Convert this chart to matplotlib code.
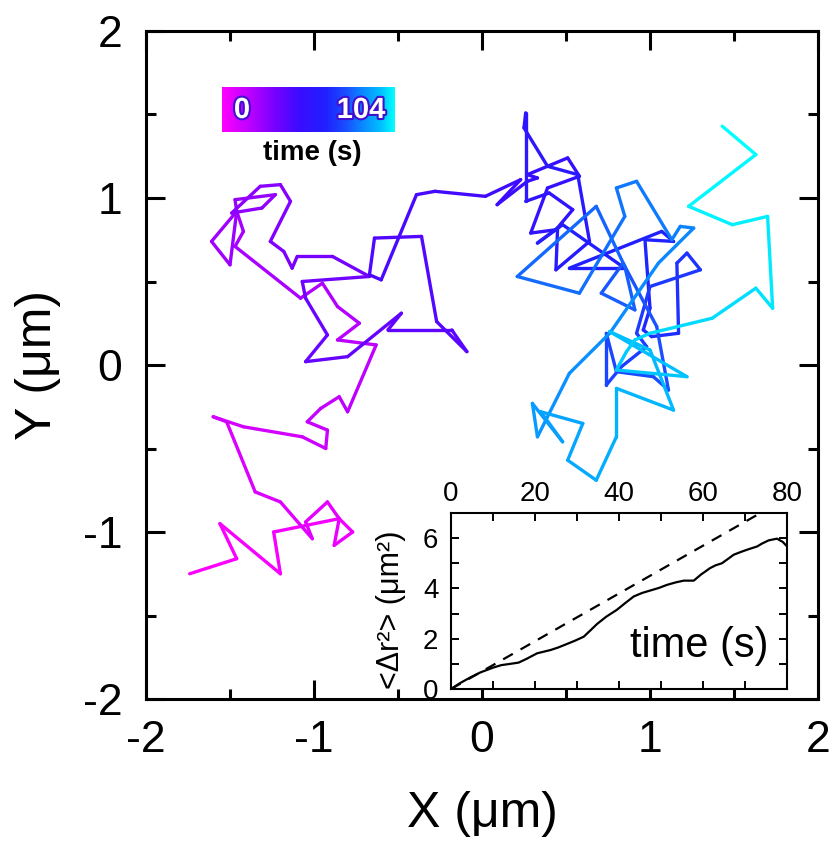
import numpy as np
import matplotlib
matplotlib.use("Agg")
import matplotlib.pyplot as plt
from matplotlib.collections import LineCollection
from matplotlib.colors import LinearSegmentedColormap, Normalize
from matplotlib.ticker import MultipleLocator
import matplotlib.patheffects as pe

plt.rcParams['font.family'] = ['Liberation Sans', 'DejaVu Sans']
plt.rcParams['axes.unicode_minus'] = False

# ---- particle trajectory (µm), in recording order ----
traj_x = [-1.74, -1.46, -1.56, -1.20, -1.24, -0.85, -0.77, -0.88, -0.85, -0.92,
          -1.05, -1.01, -1.20, -1.35, -1.52, -1.60, -1.42, -1.07, -0.93, -0.92,
          -1.04, -0.96, -0.85, -0.80, -0.63, -0.86, -0.73, -0.86, -0.95, -1.08,
          -1.47, -1.42, -1.46, -1.61, -1.50, -1.46, -1.47, -1.23, -1.31, -1.49,
          -1.32, -1.20, -1.14, -1.26, -1.18, -1.13, -1.10, -0.89, -0.67, -1.07,
          -1.05, -0.92, -1.05, -0.80, -0.48, -0.56, -0.18, -0.09, -0.27, -0.36,
          -0.64, -0.67, -0.60, -0.39, -0.28, 0.02,
          0.23, 0.09, 0.27, 0.33, 0.27, 0.51, 0.58, 0.39, 0.29, 0.44,
          0.54, 0.40, 0.26, 0.26, 0.25, 0.39, 0.57, 0.64, 0.44, 0.45,
          0.33, 0.48, 0.85, 0.52, 1.07, 1.14, 0.97, 1.00, 0.96, 1.01,
          1.17, 1.16, 1.22, 1.30, 1.00, 0.92, 0.98, 0.83, 0.74, 0.74,
          0.80, 1.02, 1.11, 1.04, 0.84, 0.71, 0.91, 0.85, 0.68, 0.21,
          0.58, 0.85, 0.80, 0.92, 1.13, 1.18, 1.26, 1.05, 0.76, 0.52,
          0.40, 0.33, 0.30, 0.48, 0.35, 0.60, 0.51, 0.68, 0.80, 0.80,
          1.14, 1.00, 0.76, 1.22, 0.80, 0.86, 0.91, 1.00, 1.37, 1.63,
          1.73, 1.70, 1.49, 1.23, 1.63, 1.43]
traj_y = [-1.25, -1.16, -0.95, -1.25, -1.00, -0.92, -1.00, -1.08, -0.92, -0.82,
          -0.94, -1.04, -0.82, -0.76, -0.34, -0.31, -0.37, -0.43, -0.50, -0.39,
          -0.34, -0.26, -0.19, -0.28, 0.12, 0.15, 0.25, 0.35, 0.49, 0.40,
          0.71, 0.80, 0.92, 0.74, 0.60, 0.92, 0.99, 1.02, 0.94, 0.91,
          1.07, 1.08, 0.98, 0.74, 0.68, 0.58, 0.65, 0.65, 0.53, 0.50,
          0.40, 0.18, 0.02, 0.05, 0.31, 0.21, 0.21, 0.08, 0.26, 0.77,
          0.76, 0.54, 0.51, 1.02, 1.04, 1.01,
          1.11, 0.96, 1.10, 1.12, 1.14, 1.24, 1.13, 1.06, 0.79, 0.81,
          0.93, 1.03, 0.98, 1.51, 1.42, 1.19, 1.14, 0.74, 0.57, 0.82,
          0.73, 0.84, 0.58, 0.58, 0.80, 0.74, 0.75, 0.34, 0.21, 0.17,
          0.19, 0.61, 0.67, 0.57, 0.47, 0.19, 0.11, -0.01, -0.12, 0.19,
          -0.04, -0.07, -0.15, 0.23, 0.61, 0.43, 0.33, 0.59, 0.95, 0.53,
          0.43, 0.89, 1.06, 1.10, 0.75, 0.83, 0.82, 0.61, 0.19, -0.05,
          -0.29, -0.43, -0.23, -0.46, -0.28, -0.35, -0.57, -0.69, -0.43, -0.14,
          -0.27, 0.09, 0.20, -0.07, -0.03, 0.08, 0.15, 0.19, 0.28, 0.46,
          0.34, 0.89, 0.84, 0.95, 1.26, 1.43]
duration = 104  # s

# ---- mean squared displacement vs lag time ----
lag_t = [0, 2, 4.6, 7, 10.2, 12, 14.1, 16.1, 18, 20.5, 23.7, 25.5, 27.6, 29.5,
         31.6, 33, 34.8, 37, 39.5, 41.5, 43.5, 45.5, 47.5, 49.5, 51.4, 53.5,
         55.4, 57.8, 59.5, 61.7, 63, 64.5, 66, 67.3, 69, 70.5, 72.9, 74, 75.6,
         77.6, 79, 80]
msd = [0, 0.22, 0.46, 0.66, 0.86, 0.95, 1.0, 1.05, 1.2, 1.42, 1.55, 1.65, 1.79,
       1.92, 2.08, 2.3, 2.59, 2.88, 3.15, 3.42, 3.68, 3.82, 3.92, 4.02, 4.14,
       4.24, 4.31, 4.31, 4.55, 4.81, 4.92, 5.0, 5.18, 5.34, 5.45, 5.54, 5.67,
       5.78, 5.91, 5.98, 5.85, 5.67]
# linear (free diffusion) reference
ref_t = [0, 80]
ref_msd = [0, 7.6]

# time colour scale
cmap_nodes = [0.0, 0.15, 0.3, 0.45, 0.6, 0.72, 0.82, 0.92, 1.0]
cmap_colors = ['#ff00ff', '#c000ff', '#7a00ff', '#3a0cff', '#2020ff',
               '#1a50ff', '#0a8cff', '#00c0ff', '#00ffff']
time_cmap = LinearSegmentedColormap.from_list('time', list(zip(cmap_nodes, cmap_colors)))

W, H = 833, 847
fig = plt.figure(figsize=(W / 100, H / 100), dpi=100)


def fx(px):
    return px / W


def fy(py):
    return 1 - py / H


# ---------------- main trajectory panel ----------------
ax = fig.add_axes([fx(146), fy(699), 672 / W, 668 / H])
pts = np.column_stack([traj_x, traj_y])
segs = np.stack([pts[:-1], pts[1:]], axis=1)
frame_t = np.linspace(0, duration, len(traj_x))
seg_t = 0.5 * (frame_t[:-1] + frame_t[1:])
lc = LineCollection(segs, cmap=time_cmap, norm=Normalize(0, duration),
                    linewidths=2.4, capstyle='round', joinstyle='round')
lc.set_array(seg_t)
ax.add_collection(lc)

ax.set_xlim(-2, 2)
ax.set_ylim(-2, 2)
ax.xaxis.set_major_locator(MultipleLocator(1))
ax.yaxis.set_major_locator(MultipleLocator(1))
ax.xaxis.set_minor_locator(MultipleLocator(0.5))
ax.yaxis.set_minor_locator(MultipleLocator(0.5))
for s in ax.spines.values():
    s.set_linewidth(2.2)
ax.tick_params(which='both', direction='in', top=True, right=True, width=2.2)
ax.tick_params(which='major', length=14, labelsize=32)
ax.tick_params(which='minor', length=7)
ax.tick_params(axis='x', which='major', pad=15)
ax.tick_params(axis='y', which='major', pad=17)
ax.set_xlabel('X (μm)', fontsize=36)
ax.set_ylabel('Y (μm)', fontsize=36)
ax.xaxis.set_label_coords(0.5, -0.138)
ax.yaxis.set_label_coords(-0.126, 0.5)

# ---------------- time colour bar ----------------
cax = fig.add_axes([fx(222), fy(132), (395 - 222) / W, 45 / H])
cax.imshow(np.linspace(0, duration, 256)[None, :], cmap=time_cmap, aspect='auto',
           extent=[0, duration, 0, 1])
cax.set_axis_off()
glow = [pe.withStroke(linewidth=3, foreground='#4010d0')]
fig.text(fx(242), fy(110), '0', color='white', fontsize=21, fontweight='bold',
         ha='center', va='center', path_effects=glow)
fig.text(fx(361), fy(110), str(duration), color='white', fontsize=21, fontweight='bold',
         ha='center', va='center', path_effects=glow)
fig.text(fx(312), fy(153), 'time (s)', color='black', fontsize=20, fontweight='bold',
         ha='center', va='center')

# ---------------- MSD inset ----------------
ax2 = fig.add_axes([fx(451), fy(689), 336 / W, 176 / H])
ax2.set_facecolor('white')
ax2.plot(lag_t, msd, color='black', lw=1.6)
ax2.plot(ref_t, ref_msd, color='black', lw=1.6, ls=(0, (5, 4)))
ax2.set_xlim(0, 80)
ax2.set_ylim(0, 7)
ax2.xaxis.set_major_locator(MultipleLocator(20))
ax2.xaxis.set_minor_locator(MultipleLocator(10))
ax2.yaxis.set_major_locator(MultipleLocator(2))
ax2.yaxis.set_minor_locator(MultipleLocator(1))
for s in ax2.spines.values():
    s.set_linewidth(1.5)
ax2.tick_params(which='both', direction='in', top=True, bottom=True, left=True,
                right=True, labeltop=True, labelbottom=False, width=1.4, length=6)
ax2.tick_params(which='major', labelsize=20)
ax2.tick_params(axis='x', which='major', pad=4)
ax2.tick_params(axis='y', which='major', pad=9)
ax2.set_ylabel('<Δr²> (μm²)', fontsize=22)
ax2.yaxis.set_label_coords(-0.135, 0.45)
ax2.text(0.945, 0.18, 'time (s)', transform=ax2.transAxes, fontsize=30,
         ha='right', va='baseline')

fig.savefig('out.png', dpi=100)
